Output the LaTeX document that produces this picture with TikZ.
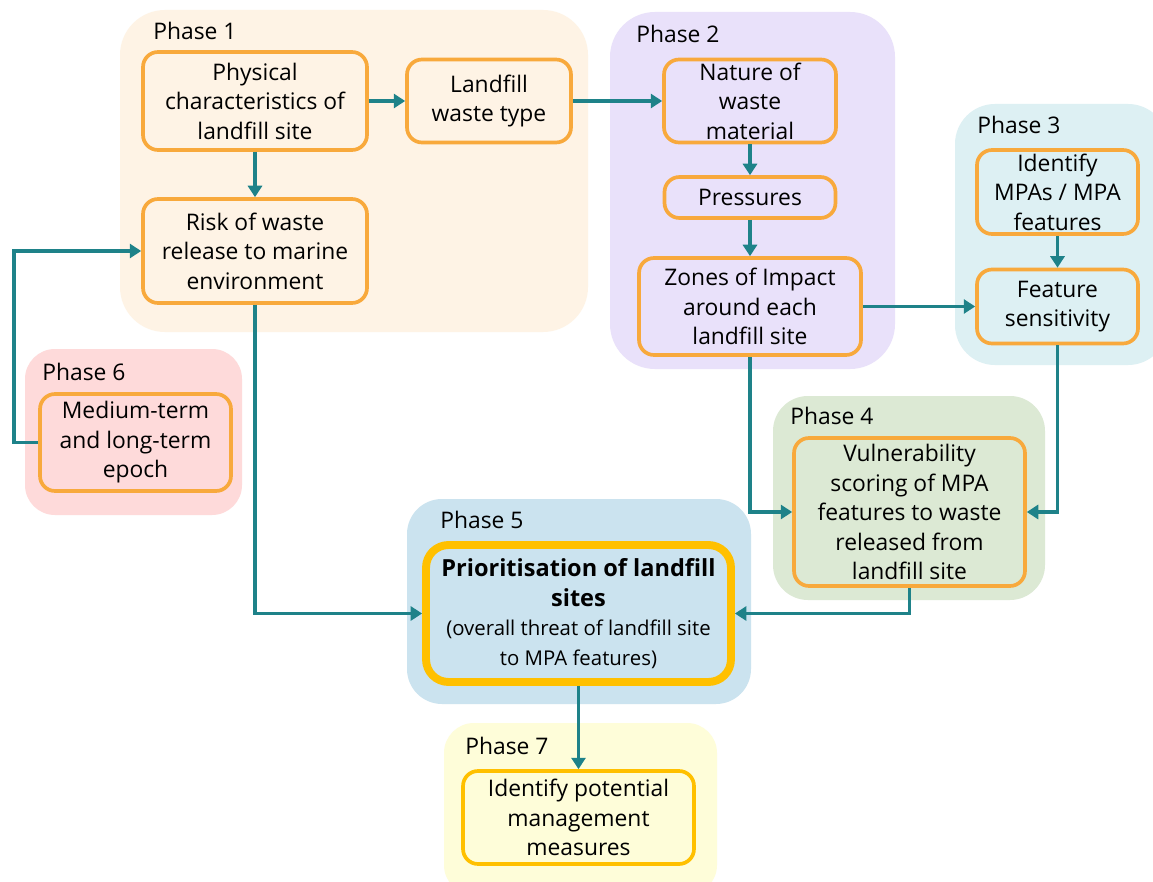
\documentclass[tikz,border=0pt]{standalone}
\usepackage{fontspec}
\setmainfont{Open Sans}
\usetikzlibrary{arrows.meta}
\definecolor{tealc}{HTML}{1E8289}
\definecolor{orng}{HTML}{F8A93C}
\definecolor{goldc}{HTML}{FFC000}
\definecolor{bgA}{HTML}{FEF3E5}
\definecolor{bgB}{HTML}{E9E1FA}
\definecolor{bgC}{HTML}{DDF0F3}
\definecolor{bgD}{HTML}{DCE9D4}
\definecolor{bgE}{HTML}{CBE3EF}
\definecolor{bgF}{HTML}{FEDADA}
\definecolor{bgG}{HTML}{FEFDD9}
\begin{document}
\begin{tikzpicture}[x=0.02cm,y=-0.02cm,
  box/.style={draw=orng, line width=2.1pt, rounded corners=0.3cm, align=center,
    inner xsep=0pt, inner ysep=-6pt, font=\fontsize{13}{16.8}\selectfont},
  phase/.style={anchor=west, inner sep=0pt, font=\fontsize{13}{16.8}\selectfont},
  conn/.style={draw=tealc, line width=1.8pt, -{Triangle[length=6.5pt,width=8pt]}}]
\useasboundingbox (0,0) rectangle (1153,882);
\clip (0,0) rectangle (1153,882);
\fill[white] (0,0) rectangle (1153,882);
% phase backgrounds
\fill[bgA, rounded corners=0.9cm] (120,10) rectangle (588,332);
\fill[bgB, rounded corners=0.9cm] (610,12) rectangle (895,369);
\fill[bgC, rounded corners=0.8cm] (955,104) rectangle (1168,365);
\fill[bgD, rounded corners=0.7cm] (773,396) rectangle (1045,600);
\fill[bgE, rounded corners=0.7cm] (407,499) rectangle (751,704);
\fill[bgF, rounded corners=0.6cm] (25,349) rectangle (242,515);
\fill[bgG, rounded corners=0.6cm] (444,723) rectangle (717,895);
% phase labels
\node[phase] (l1) at (153,31) {Phase 1};
\node[phase] (l2) at (636,34) {Phase 2};
\node[phase] (l3) at (977,125) {Phase 3};
\node[phase] (l4) at (790,416) {Phase 4};
\node[phase] (l5) at (440,520) {Phase 5};
\node[phase] (l6) at (42,372) {Phase 6};
\node[phase] (l7) at (465,746) {Phase 7};
% boxes
\node[box, minimum width=4.48cm, minimum height=1.96cm] (phys) at (255,101) {Physical\\characteristics of\\landfill site};
\node[box, minimum width=3.28cm, minimum height=1.66cm] (land) at (489,101) {Landfill\\waste type};
\node[box, minimum width=4.48cm, minimum height=2.08cm] (risk) at (255,251) {Risk of waste\\release to marine\\environment};
\node[box, minimum width=3.44cm, minimum height=1.66cm] (nat) at (750,101) {Nature of\\waste\\material};
\node[box, minimum width=3.42cm, minimum height=0.82cm] (pres) at (750,197.5) {Pressures};
\node[box, minimum width=4.44cm, minimum height=1.94cm] (zone) at (750,306.5) {Zones of Impact\\around each\\landfill site};
\node[box, minimum width=3.22cm, minimum height=1.68cm] (mpa) at (1057.5,192) {Identify\\MPAs / MPA\\features};
\node[box, minimum width=3.22cm, minimum height=1.48cm] (feat) at (1057.5,306.5) {Feature\\sensitivity};
\node[box, minimum width=4.62cm, minimum height=2.96cm] (vuln) at (909.5,512) {Vulnerability\\scoring of MPA\\features to waste\\released from\\landfill site};
\node[box, draw=goldc, line width=4.5pt, rounded corners=0.45cm, minimum width=6.10cm, minimum height=2.74cm] (prio) at (578.5,613.5)
  {{\fontsize{13.4}{16.8}\selectfont\bfseries Prioritisation of landfill}\\{\fontsize{13.4}{16.8}\selectfont\bfseries sites}\\{\fontsize{11.6}{15.5}\selectfont(overall threat of landfill site}\\{\fontsize{11.6}{15.5}\selectfont to MPA features)}};
\node[box, minimum width=3.82cm, minimum height=1.94cm] (med) at (135.5,442.5) {Medium-term\\and long-term\\epoch};
\node[box, draw=goldc, minimum width=4.62cm, minimum height=1.86cm] (act) at (578.5,817.5) {Identify potential\\management\\measures};
% connectors
\coordinate (loop) at (14,442.5);
\draw[conn] (phys.east) -- (land.west);
\draw[conn] (land.east) -- (nat.west);
\draw[conn] (phys.south) -- (risk.north);
\draw[conn] (nat.south) -- (pres.north);
\draw[conn] (pres.south) -- (zone.north);
\draw[conn] (zone.east) -- (feat.west);
\draw[conn] (mpa.south) -- (feat.north);
\draw[conn] (zone.south) |- (vuln.west);
\draw[conn] (feat.south) |- (vuln.east);
\draw[conn] (vuln.south) |- (prio.east);
\draw[conn] (risk.south) |- (prio.west);
\draw[conn] (med.west) -- (loop) |- (risk.west);
\draw[conn] (prio.south) -- (act.north);
\end{tikzpicture}
\end{document}
